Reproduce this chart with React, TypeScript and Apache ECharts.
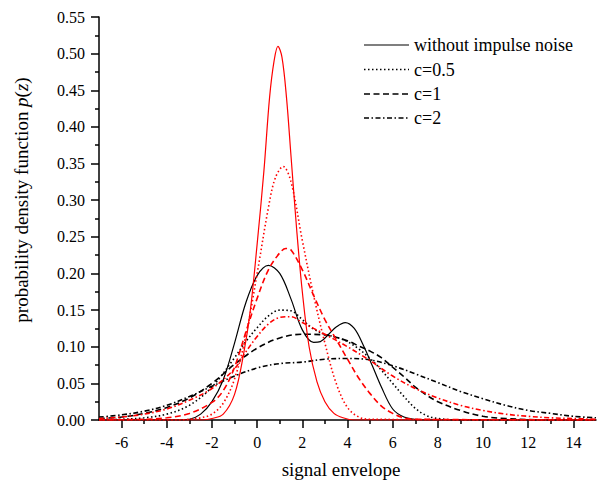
import React, { useEffect, useRef } from "react";
import * as echarts from "echarts";

// x ticks
const xMajorTicks = [-6, -4, -2, 0, 2, 4, 6, 8, 10, 12, 14];
const xMinorTicks = [-5, -3, -1, 1, 3, 5, 7, 9, 11, 13];

// black: without impulse noise (solid)
const bSolidX = [-7, -3.5, -3, -2.5, -2, -1.5, -1, -0.5, 0, 0.5, 1, 1.5, 2, 2.5, 2.8, 3.2, 3.5, 3.9, 4.3, 4.7, 5.1, 5.5, 6, 6.5, 7, 7.5, 15];
const bSolidY = [0, 0, 0.001, 0.008, 0.025, 0.055, 0.105, 0.16, 0.197, 0.211, 0.2, 0.165, 0.123, 0.106, 0.107, 0.118, 0.127, 0.133, 0.125, 0.102, 0.074, 0.045, 0.015, 0.004, 0.001, 0, 0];

// black: c=0.5 (dotted)
const bDotX = [-7, -6, -5, -4, -3, -2, -1, -0.5, 0, 0.5, 1, 1.5, 2, 2.5, 3, 3.5, 4, 4.5, 5, 5.5, 6, 6.5, 7, 7.5, 8, 9, 15];
const bDotY = [0.0005, 0.001, 0.003, 0.008, 0.02, 0.045, 0.085, 0.107, 0.126, 0.142, 0.15, 0.149, 0.137, 0.124, 0.117, 0.113, 0.107, 0.097, 0.084, 0.068, 0.05, 0.032, 0.016, 0.006, 0.002, 0, 0];

// black: c=1 (dashed)
const bDashX = [-7, -6, -5, -4, -3, -2, -1, 0, 1, 2, 3, 4, 4.5, 5, 5.5, 6, 6.5, 7, 7.5, 8, 9, 10, 11, 12, 13, 15];
const bDashY = [0.002, 0.004, 0.009, 0.017, 0.03, 0.05, 0.076, 0.098, 0.112, 0.117, 0.116, 0.108, 0.101, 0.094, 0.085, 0.072, 0.059, 0.045, 0.034, 0.025, 0.013, 0.005, 0.002, 0.0005, 0, 0];

// black: c=2 (dash-dot)
const bDashDotX = [-7, -6, -5, -4, -3, -2, -1, 0, 1, 2, 3, 4, 5, 6, 7, 8, 9, 10, 11, 12, 13, 14, 15];
const bDashDotY = [0.004, 0.007, 0.012, 0.02, 0.032, 0.046, 0.06, 0.071, 0.077, 0.079, 0.083, 0.084, 0.082, 0.074, 0.063, 0.051, 0.039, 0.029, 0.02, 0.013, 0.009, 0.005, 0.003];

// red: without impulse noise (solid)
const rSolidX = [-7, -2.4, -2, -1.5, -1, -0.6, -0.3, 0, 0.3, 0.55, 0.75, 0.92, 1.1, 1.3, 1.5, 1.75, 2.0, 2.3, 2.65, 3.0, 3.4, 3.8, 4.3, 15];
const rSolidY = [0, 0, 0.002, 0.008, 0.035, 0.09, 0.15, 0.24, 0.34, 0.44, 0.49, 0.51, 0.495, 0.44, 0.36, 0.26, 0.175, 0.1, 0.052, 0.025, 0.009, 0.003, 0, 0];

// red: c=0.5 (dotted)
const rDotX = [-7, -3.5, -3, -2.5, -2, -1.5, -1, -0.5, 0, 0.5, 0.8, 1.15, 1.5, 2, 2.5, 3, 3.5, 4, 4.5, 5, 15];
const rDotY = [0, 0, 0.001, 0.003, 0.008, 0.023, 0.056, 0.115, 0.2, 0.29, 0.33, 0.346, 0.325, 0.245, 0.17, 0.105, 0.05, 0.017, 0.004, 0.001, 0];

// red: c=1 (dashed)
const rDashX = [-7, -5, -4, -3, -2, -1.5, -1, -0.5, 0, 0.5, 1, 1.27, 1.5, 2, 2.5, 3, 3.5, 4, 4.5, 5, 5.5, 6, 6.5, 7, 15];
const rDashY = [0, 0.001, 0.003, 0.009, 0.024, 0.04, 0.072, 0.12, 0.166, 0.205, 0.228, 0.234, 0.232, 0.205, 0.17, 0.137, 0.11, 0.083, 0.057, 0.036, 0.019, 0.009, 0.003, 0.001, 0];

// red: c=2 (dash-dot)
const rDashDotX = [-7, -6, -5, -4, -3, -2, -1, -0.5, 0, 0.5, 1, 1.5, 2, 2.5, 3, 4, 5, 6, 7, 8, 9, 10, 11, 12, 13, 14, 15];
const rDashDotY = [0.002, 0.004, 0.008, 0.015, 0.027, 0.043, 0.07, 0.093, 0.114, 0.131, 0.14, 0.141, 0.133, 0.125, 0.117, 0.1, 0.081, 0.06, 0.043, 0.03, 0.02, 0.013, 0.008, 0.005, 0.003, 0.002, 0.001];

const legendNames = ["without impulse noise", "c=0.5", "c=1", "c=2"];

const FONT = "Liberation Serif";
const DOT = [1.5, 2.5];
const DASH = [6, 3.5];
const DASHDOT = [5, 2.5, 1.5, 2.5];
const legendDashes: any[] = [null, DOT, DASH, DASHDOT];

const pairs = (xs: number[], ys: number[]) => xs.map((x, i) => [x, ys[i]]);

export default function App() {
  const ref = useRef<HTMLDivElement>(null);
  useEffect(() => {
    if (!ref.current) return;
    const chart = echarts.init(ref.current, undefined, { renderer: "svg" });
    const mk = (name: string, xs: number[], ys: number[], color: string, type: any, width: number) => ({
      name,
      type: "line",
      data: pairs(xs, ys),
      showSymbol: false,
      symbol: "none",
      smooth: 0.35,
      lineStyle: { color, width, type },
      itemStyle: { color },
      z: color === "#ff0000" ? 3 : 2,
    });

    const legendRowsY = [45, 69.5, 94, 118];
    const legendGraphics: any[] = [];
    legendNames.forEach((n, i) => {
      const y = legendRowsY[i];
      legendGraphics.push({
        type: "line",
        shape: { x1: 364, y1: y, x2: 409, y2: y },
        style: { stroke: "#000", lineWidth: i === 0 ? 1.2 : 1.6, lineDash: legendDashes[i] || null },
      });
      legendGraphics.push({
        type: "text",
        x: 414,
        y,
        style: { text: n, fontFamily: FONT, fontSize: 18, fill: "#000", verticalAlign: "middle", align: "left" },
      });
    });

    chart.setOption({
      animation: false,
      backgroundColor: "#ffffff",
      grid: { left: 99, right: 2, top: 17, bottom: 61 },
      graphic: [
        ...legendGraphics,
        {
          type: "text",
          x: 21,
          y: 200,
          rotation: Math.PI / 2,
          style: {
            text: "{a|probability density function }{i|p}{a|(}{i|z}{a|)}",
            fontFamily: FONT,
            fontSize: 19,
            fill: "#000",
            align: "center",
            verticalAlign: "middle",
            rich: {
              a: { fontFamily: FONT, fontSize: 19, fill: "#000" },
              i: { fontFamily: FONT, fontSize: 19, fill: "#000", fontStyle: "italic" },
            },
          },
        },
        {
          type: "text",
          x: 341,
          y: 469,
          style: { text: "signal envelope", fontFamily: FONT, fontSize: 19, fill: "#000", align: "center", verticalAlign: "middle" },
        },
      ],
      xAxis: [
        {
          type: "value",
          min: -7,
          max: 15,
          axisLine: { show: true, onZero: false, lineStyle: { color: "#000", width: 1.5 } },
          axisTick: { show: true, length: 8, customValues: xMajorTicks, lineStyle: { color: "#000", width: 1.5 } },
          axisLabel: { customValues: xMajorTicks, fontFamily: FONT, fontSize: 16, color: "#000", margin: 14 },
          splitLine: { show: false },
        },
        {
          type: "value",
          min: -7,
          max: 15,
          position: "bottom",
          axisLine: { show: false, onZero: false },
          axisTick: { show: true, length: 4, customValues: xMinorTicks, lineStyle: { color: "#000", width: 1.5 } },
          axisLabel: { show: false },
          splitLine: { show: false },
        },
      ],
      yAxis: {
        type: "value",
        min: 0,
        max: 0.55,
        interval: 0.05,
        axisLine: { show: true, onZero: false, lineStyle: { color: "#000", width: 1.5 } },
        axisTick: { show: true, length: 8, lineStyle: { color: "#000", width: 1.5 } },
        minorTick: { show: true, splitNumber: 2, length: 4, lineStyle: { color: "#000", width: 1.5 } },
        axisLabel: { fontFamily: FONT, fontSize: 16, color: "#000", margin: 14, formatter: (v: number) => v.toFixed(2) },
        splitLine: { show: false },
      },
      series: [
        mk("without impulse noise", bSolidX, bSolidY, "#000000", "solid", 1.2),
        mk("c=0.5", bDotX, bDotY, "#000000", DOT, 1.6),
        mk("c=1", bDashX, bDashY, "#000000", DASH, 1.6),
        mk("c=2", bDashDotX, bDashDotY, "#000000", DASHDOT, 1.6),
        mk("red without impulse noise", rSolidX, rSolidY, "#ff0000", "solid", 1.2),
        mk("red c=0.5", rDotX, rDotY, "#ff0000", DOT, 1.6),
        mk("red c=1", rDashX, rDashY, "#ff0000", DASH, 1.6),
        mk("red c=2", rDashDotX, rDashDotY, "#ff0000", DASHDOT, 1.6),
      ],
    });
    return () => chart.dispose();
  }, []);
  return (
    <div
      ref={ref}
      style={{ position: "fixed", left: 0, top: 0, width: 598, height: 481, background: "#fff" }}
    />
  );
}
